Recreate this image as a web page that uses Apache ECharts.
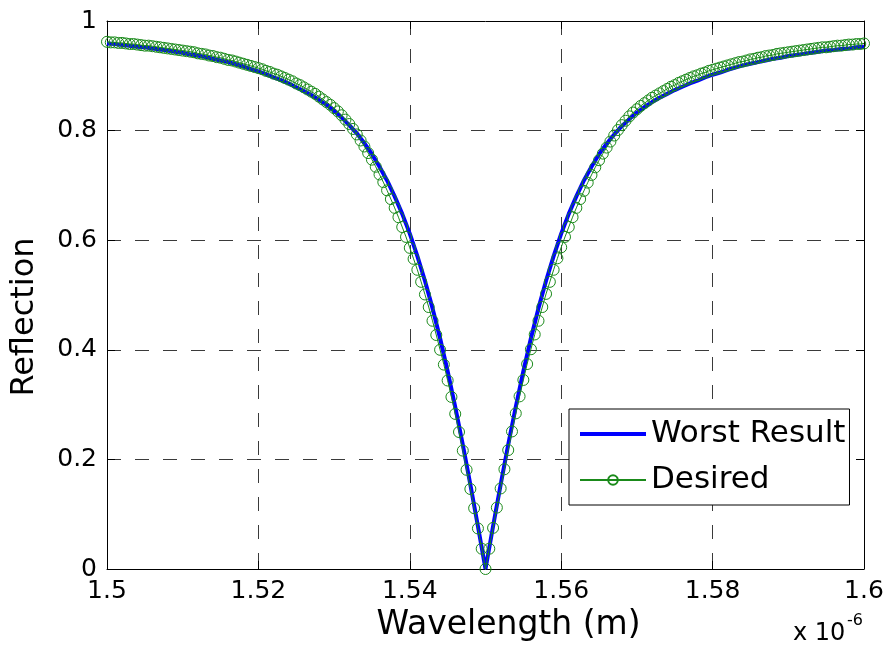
<!DOCTYPE html>
<html>
<head>
<meta charset="utf-8">
<script src="https://cdn.jsdelivr.net/npm/echarts@6/dist/echarts.min.js"></script>
<style>
  html, body { margin: 0; padding: 0; background: #fff; }
  #chart { width: 888px; height: 649px; }
</style>
</head>
<body>
<div id="chart"></div>
<script>
// Wavelength grid in micrometres (axis shows x 10^-6 m)
const wlStart = 1.5;
const desiredStep = 0.0005;   // 201 samples
const worstStep = 0.001;      // 101 samples

const xTicks = [1.5, 1.52, 1.54, 1.56, 1.58, 1.6];
const yTicks = [0, 0.2, 0.4, 0.6, 0.8, 1];

// Reflection of the target response, 1.500 .. 1.600 um
const desired = [
  0.962,0.961,0.961,0.960,0.960,0.959,0.958,0.958,0.957,0.956,
  0.955,0.955,0.954,0.953,0.952,0.951,0.950,0.949,0.948,0.947,
  0.946,0.945,0.944,0.943,0.941,0.940,0.939,0.937,0.936,0.934,
  0.933,0.931,0.929,0.928,0.926,0.924,0.922,0.920,0.918,0.916,
  0.914,0.912,0.909,0.907,0.904,0.902,0.899,0.896,0.893,0.890,
  0.886,0.883,0.879,0.875,0.871,0.867,0.862,0.857,0.852,0.847,
  0.841,0.835,0.828,0.820,0.812,0.803,0.793,0.782,0.771,0.759,
  0.747,0.734,0.720,0.706,0.691,0.675,0.659,0.642,0.624,0.606,
  0.586,0.566,0.546,0.524,0.501,0.478,0.453,0.427,0.400,0.373,
  0.344,0.314,0.283,0.250,0.216,0.181,0.146,0.111,0.074,0.037,
  0.000,
  0.037,0.075,0.112,0.147,0.182,0.217,0.251,0.284,0.315,0.345,
  0.374,0.401,0.428,0.453,0.478,0.502,0.524,0.546,0.567,0.587,
  0.606,0.624,0.642,0.659,0.675,0.690,0.705,0.719,0.733,0.746,
  0.758,0.769,0.780,0.791,0.801,0.810,0.818,0.826,0.833,0.839,
  0.845,0.850,0.855,0.860,0.864,0.868,0.872,0.876,0.880,0.883,
  0.887,0.890,0.893,0.896,0.899,0.901,0.904,0.906,0.909,0.911,
  0.913,0.915,0.917,0.919,0.921,0.923,0.925,0.926,0.928,0.930,
  0.931,0.933,0.934,0.936,0.937,0.938,0.940,0.941,0.942,0.943,
  0.944,0.945,0.946,0.947,0.948,0.949,0.950,0.951,0.952,0.952,
  0.953,0.954,0.955,0.955,0.956,0.957,0.957,0.958,0.958,0.959
];

// Reflection of the worst optimisation result, 1.500 .. 1.600 um
const worst = [
  0.959,0.958,0.956,0.955,0.953,0.952,0.950,0.948,0.946,0.944,
  0.942,0.939,0.937,0.934,0.931,0.928,0.925,0.921,0.917,0.912,
  0.908,0.903,0.897,0.892,0.886,0.879,0.872,0.865,0.856,0.847,
  0.836,0.824,0.810,0.795,0.777,0.757,0.734,0.709,0.680,0.648,
  0.612,0.571,0.526,0.476,0.421,0.361,0.296,0.227,0.154,0.078,
  0.000,
  0.078,0.154,0.227,0.296,0.361,0.421,0.476,0.526,0.571,0.612,
  0.648,0.680,0.709,0.734,0.757,0.776,0.793,0.808,0.821,0.833,
  0.843,0.852,0.860,0.867,0.874,0.880,0.886,0.891,0.897,0.902,
  0.906,0.911,0.915,0.919,0.922,0.925,0.928,0.931,0.933,0.936,
  0.938,0.940,0.942,0.944,0.946,0.947,0.949,0.950,0.952,0.953
];

const FONT = 'DejaVu Sans';
const BLUE = '#0000ff';
const GREEN = '#1a8a1a';

function pairs(values, step) {
  return values.map((v, i) => [+(wlStart + i * step).toFixed(4), v]);
}

const chart = echarts.init(document.getElementById('chart'), null, { renderer: 'canvas' });

const gridLine = { show: true, lineStyle: { color: '#3a3a3a', width: 1, type: [14, 14] } };
const frameLine = { show: true, onZero: false, lineStyle: { color: '#000', width: 1 } };
const innerTick = { show: true, inside: true, length: 8, lineStyle: { color: '#000' } };

chart.setOption({
  backgroundColor: '#ffffff',
  animation: false,
  grid: { left: 107, right: 24, top: 21, bottom: 80, show: false },
  xAxis: [{
    type: 'value', min: xTicks[0], max: xTicks[xTicks.length - 1], interval: 0.02,
    position: 'bottom',
    name: 'Wavelength (m)', nameLocation: 'middle', nameGap: 24,
    nameTextStyle: { fontFamily: FONT, fontSize: 33, color: '#000', padding: [0, 0, 0, 46] },
    axisLine: frameLine, axisTick: innerTick,
    axisLabel: { fontFamily: FONT, fontSize: 25, color: '#000', margin: 10,
                 formatter: v => String(parseFloat(v.toFixed(2))) },
    splitLine: gridLine
  }, {
    type: 'value', min: xTicks[0], max: xTicks[xTicks.length - 1], interval: 0.02,
    position: 'top',
    axisLine: frameLine, axisTick: innerTick,
    axisLabel: { show: false }, splitLine: { show: false }
  }],
  yAxis: [{
    type: 'value', min: yTicks[0], max: yTicks[yTicks.length - 1], interval: 0.2,
    position: 'left',
    name: 'Reflection', nameLocation: 'middle', nameGap: 66,
    nameTextStyle: { fontFamily: FONT, fontSize: 32, color: '#000', padding: [0, 44, 0, 0] },
    axisLine: frameLine, axisTick: innerTick,
    axisLabel: { fontFamily: FONT, fontSize: 25, color: '#000', margin: 10,
                 formatter: v => String(parseFloat(v.toFixed(1))) },
    splitLine: gridLine
  }, {
    type: 'value', min: yTicks[0], max: yTicks[yTicks.length - 1], interval: 0.2,
    position: 'right',
    axisLine: frameLine, axisTick: innerTick,
    axisLabel: { show: false }, splitLine: { show: false }
  }],
  legend: {
    orient: 'vertical',
    left: 569, top: 409,
    backgroundColor: '#ffffff',
    borderColor: '#000', borderWidth: 1, borderRadius: 0,
    padding: [6, 4, 6, 10],
    itemGap: 8,
    itemWidth: 66, itemHeight: 12,
    textStyle: { fontFamily: FONT, fontSize: 31, color: '#000', lineHeight: 38 },
    data: [
      { name: 'Worst Result', icon: 'path://M0,0L66,0L66,4L0,4Z', itemStyle: { color: BLUE } },
      { name: 'Desired' }
    ]
  },
  graphic: [{
    type: 'text', left: 793, top: 622, z: 100,
    style: { text: 'x 10', fontFamily: FONT, fontSize: 24, fill: '#000' }
  }, {
    type: 'text', left: 847, top: 613, z: 100,
    style: { text: '-6', fontFamily: FONT, fontSize: 16, fill: '#000' }
  }],
  series: [{
    name: 'Worst Result', type: 'line',
    data: pairs(worst, worstStep),
    showSymbol: false, symbol: 'none',
    lineStyle: { color: BLUE, width: 4 },
    itemStyle: { color: BLUE },
    z: 2
  }, {
    name: 'Desired', type: 'line',
    data: pairs(desired, desiredStep),
    symbol: 'circle', symbolSize: 11, showSymbol: true,
    clip: false,
    lineStyle: { color: GREEN, width: 1 },
    itemStyle: { color: 'rgba(0,0,0,0)', borderColor: GREEN, borderWidth: 1 },
    z: 3
  }]
});
</script>
</body>
</html>
